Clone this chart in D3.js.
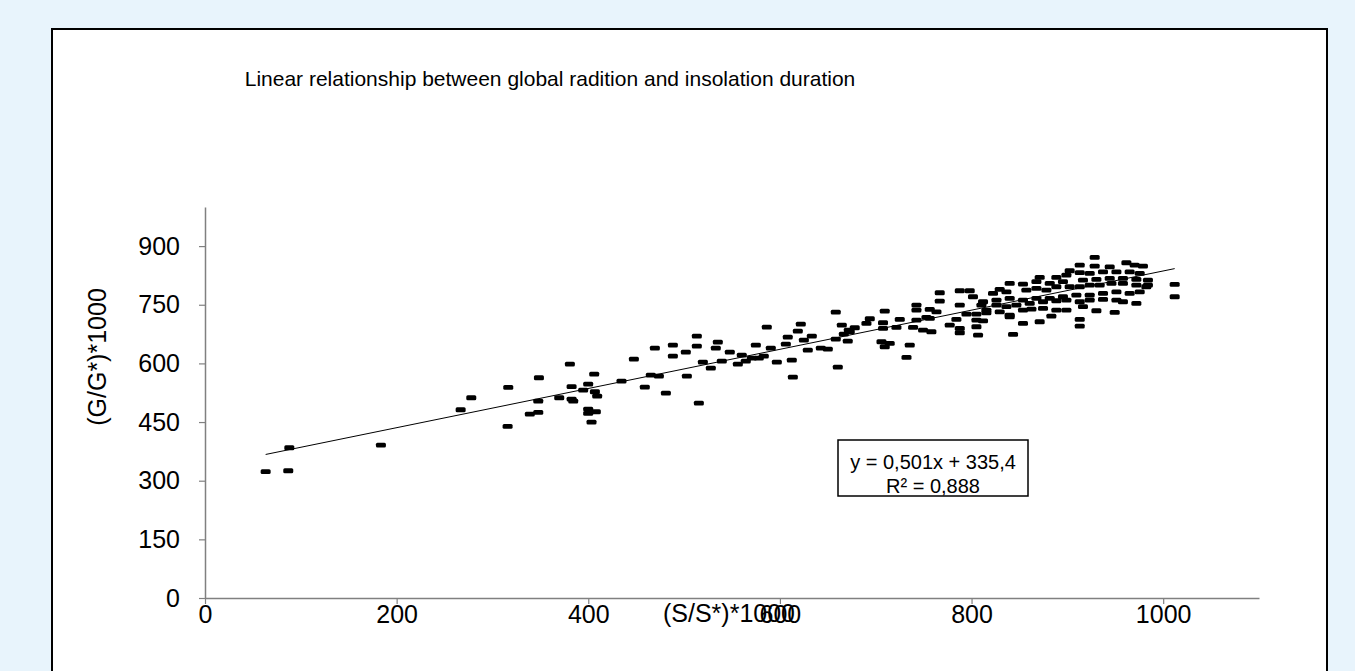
<!DOCTYPE html>
<html>
<head>
<meta charset="utf-8">
<script src="https://cdn.jsdelivr.net/npm/d3@7"></script>
<style>
  html, body { margin: 0; padding: 0; background: #e8f4fc; }
  #container { width: 1355px; height: 671px; }
</style>
</head>
<body>
<div id="container"></div>
<script>
// insolation duration (S/S*)*1000
let sx = [
  63.3, 86.9, 88.0, 183.6, 266.8, 277.9, 316.5, 315.8, 339.0, 347.8,
  347.8, 348.5, 369.7, 380.8, 382.6, 382.6, 384.3, 394.7, 399.9, 399.9,
  399.9, 407.9, 403.4, 406.2, 406.9, 409.3, 434.7,
  447.6, 459.0, 465.3, 469.5, 473.7, 481.0, 488.3, 488.3, 501.8, 502.9,
  513.3, 513.3, 515.4, 519.6, 527.9, 533.1, 535.2, 539.4, 547.7, 556.1,
  560.2, 564.4, 570.7, 574.9, 578.0, 583.2, 586.3, 590.5, 596.8, 606.2,
  608.2, 612.4, 613.5, 618.7, 621.8, 625.0, 629.1, 633.3, 642.7, 650.0,
  658.3, 658.3, 660.4, 664.6, 666.7, 670.8, 671.9,
  928.5, 912.9, 902.4, 928.5, 944.2, 961.6, 970.2, 978.9,
  871.1, 888.5, 899.0, 912.9, 923.3, 937.2, 951.2, 965.0, 975.5,
  839.8, 853.7, 867.7, 881.6, 895.4, 916.3, 930.3, 944.2, 958.0, 972.0, 984.1, 984.1,
  829.4, 822.4, 836.4, 857.2, 867.7, 878.1, 888.5, 902.4, 912.9, 923.3, 933.7, 946.0, 958.0, 972.0, 982.4,
  766.8, 787.7, 798.1, 812.0, 826.0, 839.8, 853.7, 867.7, 881.6, 895.4, 909.4, 923.3, 937.2, 951.2, 965.0, 975.5, 1012.0, 1012.0,
  766.8, 742.5, 756.4, 763.4, 787.7, 801.5, 810.3, 815.5, 826.0, 836.4, 846.8, 860.7, 874.6, 888.5, 899.0, 912.9, 923.3, 937.2, 951.2, 958.0, 972.0,
  709.4, 742.5, 752.9, 794.7, 805.1, 815.5, 829.4, 839.8, 853.7, 862.5, 874.6, 888.5, 899.0, 916.3, 930.3, 949.4,
  693.8, 690.3, 707.6, 725.1, 742.5, 756.4, 784.2, 805.1, 812.0, 839.8, 853.7, 871.1, 883.3, 912.9,
  678.1, 707.6, 721.6, 739.0, 749.4, 758.1, 777.2, 787.7, 805.1, 912.9,
  706.0, 714.6, 709.4, 735.5, 787.7, 806.8, 843.3, 732.1, 672.9
];

// global radiation (G/G*)*1000
let gy = [
  323.0, 325.5, 384.3, 391.2, 481.5, 512.2, 538.8, 439.0, 470.5, 474.8,
  503.7, 563.3, 512.2, 598.3, 540.4, 508.8, 503.7, 531.9, 547.2, 483.3,
  472.3, 476.4, 450.0, 572.8, 527.5, 516.5, 554.9,
  611.1, 539.5, 570.2, 639.3, 567.6, 524.2, 618.8, 646.9, 629.0, 567.6,
  669.9, 644.4, 498.6, 603.5, 588.1, 639.3, 654.6, 606.0, 629.0, 598.4,
  621.4, 606.0, 613.7, 646.9, 613.7, 618.8, 692.9, 639.3, 603.5, 649.5,
  667.4, 608.6, 565.1, 682.7, 700.6, 659.7, 634.1, 669.9, 639.3, 636.7,
  731.3, 662.3, 590.7, 698.1, 675.1, 657.2, 685.3,
  871.0, 851.5, 837.0, 849.0, 847.0, 857.4, 851.5, 849.0,
  820.0, 820.0, 826.0, 832.0, 830.0, 834.0, 834.0, 834.0, 830.0,
  804.6, 803.0, 809.0, 804.6, 809.0, 813.0, 815.0, 817.5, 817.5, 815.0, 813.0, 800.3,
  789.3, 779.0, 783.0, 787.5, 791.8, 787.5, 796.0, 796.0, 796.0, 800.3, 800.3, 804.6, 804.6, 800.3, 796.0,
  780.7, 785.8, 785.8, 757.7, 762.0, 766.3, 762.0, 766.3, 766.3, 770.5, 774.8, 774.8, 779.0, 783.0, 779.0, 783.0, 802.0, 770.5,
  759.4, 749.2, 738.0, 732.0, 749.2, 770.5, 749.2, 736.4, 749.2, 745.0, 749.2, 753.5, 757.7, 760.2, 762.0, 757.7, 762.0, 763.7, 762.0, 757.7, 753.5,
  733.9, 736.4, 717.7, 726.2, 726.2, 729.5, 732.0, 723.6, 736.4, 739.0, 740.7, 736.4, 736.4, 745.0, 734.6, 730.5,
  714.2, 702.4, 704.0, 712.6, 710.8, 715.2, 712.6, 710.8, 709.0, 719.3, 702.4, 706.5, 721.0, 712.6,
  691.2, 689.6, 692.2, 692.2, 685.3, 680.9, 698.1, 689.6, 693.7, 695.5,
  655.4, 651.3, 642.6, 646.9, 678.4, 672.5, 674.3, 615.5, 680.9
];

let xTicks = [0, 200, 400, 600, 800, 1000];
let yTicks = [0, 150, 300, 450, 600, 750, 900];

let slope = 0.501,
    intercept = 335.4;

let title = 'Linear relationship between global radition and insolation duration';
let eqLines = ['y = 0,501x + 335,4', 'R\u00b2 = 0,888'];

let font = '"Liberation Sans", Arial, sans-serif';

let viz = d3.select('#container')
    .append('svg')
      .attr('width', 1355)
      .attr('height', 671)
      .style('display', 'block')
      .style('background', '#e8f4fc');

function main() {
    // white chart area with black frame (runs past the bottom edge)
    viz.append('rect')
        .attr('x', 52)
        .attr('y', 29)
        .attr('width', 1275)
        .attr('height', 700)
        .attr('fill', 'white')
        .attr('stroke', 'black')
        .attr('stroke-width', 2);

    let x = d3.scaleLinear().domain([0, 1100]).range([205, 1259]);
    let y = d3.scaleLinear().domain([0, 1000]).range([598, 207]);

    viz.append('text')
        .attr('x', 550)
        .attr('y', 86)
        .attr('text-anchor', 'middle')
        .attr('font-family', font)
        .attr('font-size', 21)
        .text(title);

    let xAxis = viz.append('g')
        .attr('transform', 'translate(0,' + y(0) + ')')
        .call(d3.axisBottom(x).tickValues(xTicks).tickFormat(d3.format('d'))
            .tickSize(6).tickSizeOuter(0).tickPadding(1));
    let yAxis = viz.append('g')
        .attr('transform', 'translate(' + x(0) + ',0)')
        .call(d3.axisLeft(y).tickValues(yTicks).tickFormat(d3.format('d'))
            .tickSize(6).tickSizeOuter(0).tickPadding(19));

    [xAxis, yAxis].forEach(function(a) {
        a.select('.domain').attr('stroke', '#808080').attr('stroke-width', 1.5);
        a.selectAll('.tick line').attr('stroke', '#808080').attr('stroke-width', 1.2);
        a.selectAll('.tick text')
            .attr('font-family', font)
            .attr('font-size', 25)
            .attr('fill', 'black');
    });

    // axis titles
    viz.append('text')
        .attr('transform', 'translate(106,357) rotate(-90)')
        .attr('text-anchor', 'middle')
        .attr('font-family', font)
        .attr('font-size', 25)
        .text('(G/G*)*1000');

    viz.append('text')
        .attr('x', 663)
        .attr('y', 622)
        .attr('font-family', font)
        .attr('font-size', 25)
        .text('(S/S*)*1000');

    // trend line
    let ext = d3.extent(sx);
    viz.append('line')
        .attr('x1', x(ext[0]))
        .attr('y1', y(slope * ext[0] + intercept))
        .attr('x2', x(ext[1]))
        .attr('y2', y(slope * ext[1] + intercept))
        .attr('stroke', 'black')
        .attr('stroke-width', 1);

    // points as small dashes
    let pts = sx.map(function(v, i) { return [v, gy[i]]; });
    viz.append('g').selectAll('rect')
        .data(pts)
        .enter()
        .append('rect')
          .attr('x', function(d) { return x(d[0]) - 5; })
          .attr('y', function(d) { return y(d[1]) - 2.4; })
          .attr('width', 10)
          .attr('height', 4.8)
          .attr('rx', 1.5)
          .attr('fill', 'black');

    // equation box
    let box = viz.append('g');
    box.append('rect')
        .attr('x', 838)
        .attr('y', 440)
        .attr('width', 190)
        .attr('height', 56)
        .attr('fill', 'white')
        .attr('stroke', 'black')
        .attr('stroke-width', 1.5);
    box.selectAll('text')
        .data(eqLines)
        .enter()
        .append('text')
          .attr('x', 933)
          .attr('y', function(d, i) { return 469 + i * 24; })
          .attr('text-anchor', 'middle')
          .attr('font-family', font)
          .attr('font-size', 20)
          .text(function(d) { return d; });
}

main();
</script>
</body>
</html>
